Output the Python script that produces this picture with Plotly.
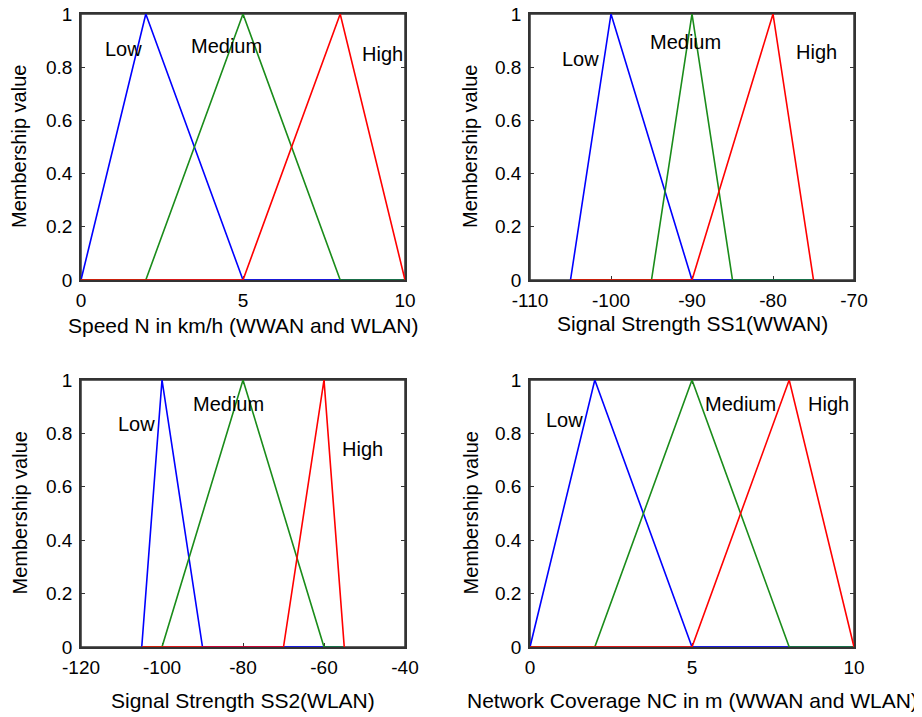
import plotly.graph_objects as go

# ---- data ----
speed_range = [0, 10]
speed_low = [0, 2, 5]
speed_medium = [2, 5, 8]
speed_high = [5, 8, 10]
speed_ticks = [0, 5, 10]

ss1_range = [-105, -75]
ss1_low = [-105, -100, -90]
ss1_medium = [-95, -90, -85]
ss1_high = [-90, -80, -75]
ss1_ticks = [-110, -100, -90, -80, -70]

ss2_range = [-105, -55]
ss2_low = [-105, -100, -90]
ss2_medium = [-100, -80, -60]
ss2_high = [-70, -60, -55]
ss2_ticks = [-120, -100, -80, -60, -40]

nc_range = [0, 10]
nc_low = [0, 2, 5]
nc_medium = [2, 5, 8]
nc_high = [5, 8, 10]
nc_ticks = [0, 5, 10]

y_ticks = [0, 0.2, 0.4, 0.6, 0.8, 1]
y_ticktext = ["0", "0.2", "0.4", "0.6", "0.8", "1"]

mf_names = ["Low", "Medium", "High"]
mf_colors = ["#0000ff", "#1a8c1a", "#ff0000"]

x_titles = ["Speed N in km/h (WWAN and WLAN)", "Signal Strength SS1(WWAN)",
            "Signal Strength SS2(WLAN)", "Network Coverage NC in m (WWAN and WLAN)"]
y_title = "Membership value"

panels = [
    dict(rng=speed_range, mfs=[speed_low, speed_medium, speed_high],
         ticks=speed_ticks,
         labels=[(1.3, 0.87), (4.5, 0.88), (9.3, 0.85)]),
    dict(rng=ss1_range, mfs=[ss1_low, ss1_medium, ss1_high],
         ticks=ss1_ticks,
         labels=[(-103.8, 0.83), (-90.8, 0.895), (-74.6, 0.857)]),
    dict(rng=ss2_range, mfs=[ss2_low, ss2_medium, ss2_high],
         ticks=ss2_ticks,
         labels=[(-106.2, 0.834), (-83.7, 0.91), (-50.4, 0.74)]),
    dict(rng=nc_range, mfs=[nc_low, nc_medium, nc_high],
         ticks=nc_ticks,
         labels=[(1.08, 0.85), (6.51, 0.91), (9.2, 0.91)]),
]

# the page body has an 8px margin, so the figure is drawn 8px in from the corner
OFF = 8
W, H = 922 - OFF, 717 - OFF
# plot-area pixel boxes in window pixels (left, right, top, bottom)
boxes = [(81, 405, 14, 280), (530, 854, 14, 280),
         (81, 405, 380, 647), (530, 854, 380, 647)]
xtitle_y = [325, 323, 700, 700]
ytitle_x = [19, 470, 19, 470]

FONT = "Arial, Liberation Sans, sans-serif"
FRAME = "#333333"
fig = go.Figure()
annotations = []
shapes = []

for i, p in enumerate(panels):
    ax = "" if i == 0 else str(i + 1)
    xa, ya = "x" + ax, "y" + ax
    for mf, name, col in zip(p["mfs"], mf_names, mf_colors):
        a, b, c = mf
        fig.add_trace(go.Scatter(
            x=[p["rng"][0], a, b, c, p["rng"][1]], y=[0, 0, 1, 0, 0],
            mode="lines", line=dict(color=col, width=1.6),
            name=name, showlegend=False, xaxis=xa, yaxis=ya, cliponaxis=False))
    for (lx, ly), name in zip(p["labels"], mf_names):
        annotations.append(dict(x=lx, y=ly, xref=xa, yref=ya, text=name,
                                showarrow=False, xanchor="center", yanchor="middle",
                                font=dict(family=FONT, size=20, color="black")))
    # axes box
    shapes.append(dict(type="rect", xref=xa + " domain", yref=ya + " domain",
                       x0=0, x1=1, y0=0, y1=1, layer="below",
                       line=dict(color=FRAME, width=1.5), fillcolor="rgba(0,0,0,0)"))
    l, r, t, b = [v - OFF for v in boxes[i]]
    axis_common = dict(showline=True, linecolor=FRAME, linewidth=1.5,
                       mirror="all", ticks="inside", ticklen=4, tickwidth=1.2,
                       tickcolor=FRAME, showgrid=False, zeroline=False,
                       automargin=False, layer="below traces",
                       ticklabeloverflow="allow",
                       tickfont=dict(family=FONT, size=19, color="black"))
    xt = p["ticks"]
    fig.update_layout(**{
        ("xaxis" + ax): dict(domain=[l / W, r / W], range=[xt[0], xt[-1]],
                             tickmode="array", tickvals=xt,
                             ticktext=[str(v) for v in xt],
                             anchor=ya, ticklabelstandoff=2, **axis_common),
        ("yaxis" + ax): dict(domain=[1 - b / H, 1 - t / H], range=[0, 1],
                             tickmode="array", tickvals=y_ticks,
                             ticktext=y_ticktext,
                             anchor=xa, ticklabelstandoff=3, **axis_common),
    })
    annotations.append(dict(x=(l + r) / 2 / W, y=1 - (xtitle_y[i] - OFF) / H,
                            xref="paper", yref="paper", text=x_titles[i],
                            showarrow=False, xanchor="center", yanchor="middle",
                            font=dict(family=FONT, size=21, color="black")))
    annotations.append(dict(x=(ytitle_x[i] - OFF) / W, y=1 - (t + b) / 2 / H,
                            xref="paper", yref="paper", text=y_title,
                            textangle=-90, showarrow=False,
                            xanchor="center", yanchor="middle",
                            font=dict(family=FONT, size=20, color="black")))

fig.update_layout(width=W, height=H, margin=dict(l=0, r=0, t=0, b=0),
                  paper_bgcolor="white", plot_bgcolor="white",
                  annotations=annotations, shapes=shapes)
fig.write_html("out.html")
